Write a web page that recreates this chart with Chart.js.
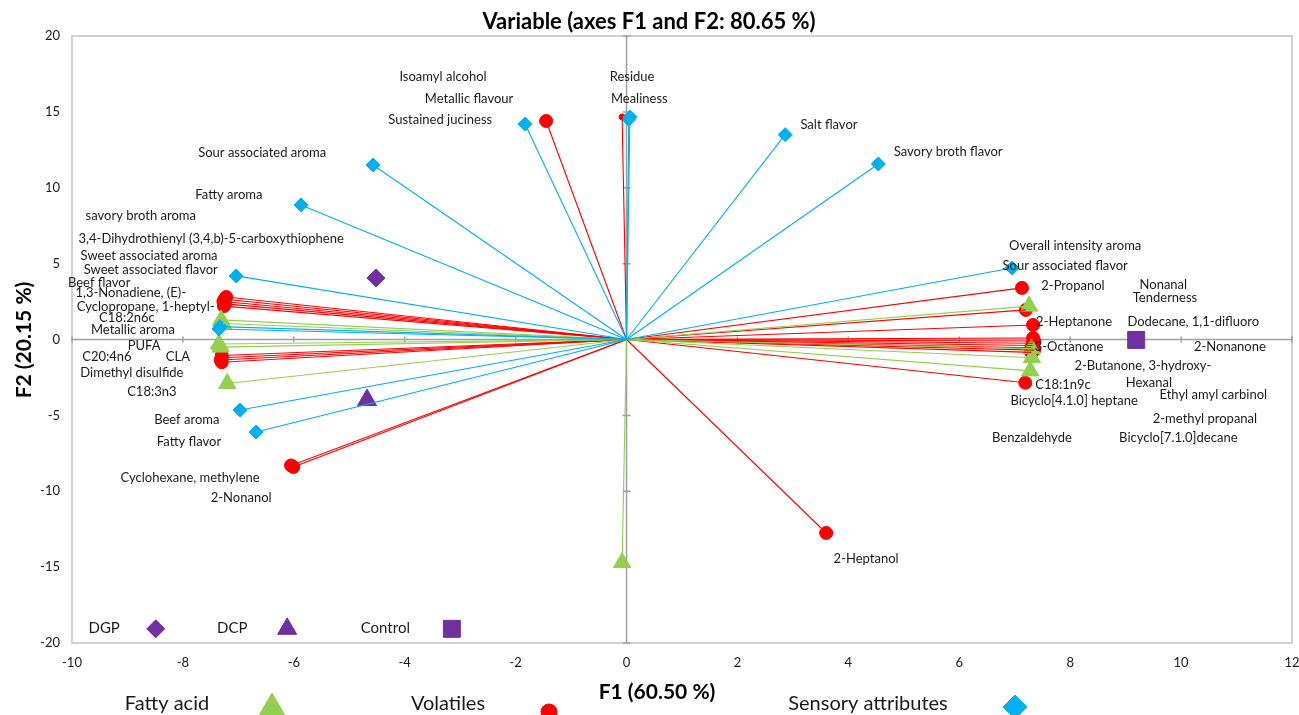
<!DOCTYPE html>
<html>
<head>
<meta charset="utf-8">
<script src="https://cdn.jsdelivr.net/npm/chart.js@4.4.0/dist/chart.umd.min.js"></script>
<style>
  body { margin: 0; background: #fff; overflow: hidden; }
  #wrap { width: 1299px; height: 715px; }
</style>
</head>
<body>
<div id="wrap"><canvas id="biplot" width="1299" height="715"></canvas></div>
<script>
// Variable coordinates
const fattyAcidPoints = [
    [-7.31, 1.29], [-7.28, 1.05], [-7.35, -0.3], [-7.32, -0.5], [-7.2, -2.9],
    [-0.08, -14.7], [7.26, 2.2], [7.3, -0.6], [7.31, -1.2], [7.28, -2.07]
];
const volatilePoints = [
    [-1.45, 14.4], [-7.22, 2.8], [-7.25, 2.65], [-7.27, 2.5], [-7.24, 2.35], [-7.26, 2.2],
    [-7.3, -1.05], [-7.3, -1.2], [-7.32, -1.35], [-7.3, -1.5],
    [-6.01, -8.4], [-6.05, -8.3], [3.6, -12.75],
    [7.13, 3.4], [7.2, 1.95], [7.33, 0.96], [7.33, 0.1], [7.35, -0.1], [7.33, -0.25],
    [7.32, -0.4], [7.3, -0.55], [7.35, -0.7], [7.3, -0.85], [7.19, -2.85]
];
const residuePoint = [[-0.08, 14.67]];
const sensoryPoints = [
    [-1.83, 14.2], [0.06, 14.67], [0.04, 14.5], [2.86, 13.5], [4.54, 11.57],
    [-4.57, 11.5], [-5.87, 8.87], [-7.04, 4.19], [-7.35, 0.69], [-7.33, 0.85],
    [-6.97, -4.65], [-6.68, -6.1], [6.95, 4.71]
];
const treatmentNames = ['DGP', 'DCP', 'Control'];
const treatmentPoints = [[-4.52, 4.05], [-4.68, -3.99], [9.19, -0.03]];

// Text labels as placed in the plot (text, F1, F2)
const variableLabels = [
    ['Isoamyl alcohol', -3.31, 17.3], ['Metallic flavour', -2.84, 15.85], ['Sustained juciness', -3.36, 14.47],
    ['Residue', 0.1, 17.3], ['Mealiness', 0.23, 15.85], ['Salt flavor', 3.65, 14.14],
    ['Savory broth flavor', 5.8, 12.36], ['Sour associated aroma', -6.57, 12.29], ['Fatty aroma', -7.17, 9.53],
    ['savory broth aroma', -8.76, 8.14], ['3,4-Dihydrothienyl (3,4,b)-5-carboxythiophene', -7.49, 6.62],
    ['Sweet associated aroma', -8.61, 5.5], ['Sweet associated flavor', -8.58, 4.58], ['Beef flavor', -9.51, 3.72],
    ['1,3-Nonadiene, (E)-', -8.94, 3.07], ['Cyclopropane, 1-heptyl-', -8.67, 2.14], ['C18:2n6c', -9.01, 1.42],
    ['Metallic aroma', -8.9, 0.63], ['PUFA', -8.7, -0.43], ['C20:4n6', -9.37, -1.15], ['CLA', -8.09, -1.15],
    ['Dimethyl disulfide', -8.92, -2.21], ['C18:3n3', -8.56, -3.46], ['Beef aroma', -7.93, -5.31],
    ['Fatty flavor', -7.89, -6.76], ['Cyclohexane, methylene', -7.87, -9.13], ['2-Nonanol', -6.95, -10.45],
    ['2-Heptanol', 4.32, -14.47], ['Overall intensity aroma', 8.09, 6.16], ['Sour associated flavor', 7.91, 4.85],
    ['2-Propanol', 8.05, 3.53], ['Nonanal', 9.68, 3.59], ['Tenderness', 9.71, 2.74], ['2-Heptanone', 8.07, 1.15],
    ['Dodecane, 1,1-difluoro', 10.22, 1.15], ['3-Octanone', 7.98, -0.49], ['2-Nonanone', 10.88, -0.49],
    ['2-Butanone, 3-hydroxy-', 9.31, -1.75], ['Hexanal', 9.42, -2.87], ['C18:1n9c', 7.87, -3.0],
    ['Ethyl amyl carbinol', 10.58, -3.66], ['Bicyclo[4.1.0] heptane', 8.07, -4.05],
    ['2-methyl propanal', 10.43, -5.24], ['Benzaldehyde', 7.31, -6.49], ['Bicyclo[7.1.0]decane', 9.95, -6.49]
];
const groupNames = ['Fatty acid', 'Volatiles', 'Sensory attributes'];

const GREEN = '#92D050';
const RED = '#FF0000';
const BLUE = '#00B0F0';
const PURPLE = '#7030A0';
const FONT = 'Lato, "Open Sans", sans-serif';

const toXY = p => ({ x: p[0], y: p[1] });

function rayDatasets(points, color) {
    return points.map(p => ({
        data: [{ x: 0, y: 0 }, toXY(p)],
        showLine: true,
        borderColor: color,
        borderWidth: 1.1,
        pointRadius: 0,
        pointHoverRadius: 0
    }));
}

function markerDataset(points, color, style, radius) {
    return {
        data: points.map(toXY),
        showLine: false,
        pointStyle: style,
        pointRadius: radius,
        backgroundColor: color,
        borderColor: color,
        borderWidth: 1
    };
}

const datasets = [
    ...rayDatasets(sensoryPoints, BLUE),
    ...rayDatasets(fattyAcidPoints, GREEN),
    ...rayDatasets(volatilePoints, RED),
    ...rayDatasets(residuePoint, RED),
    markerDataset(sensoryPoints, BLUE, 'rectRot', 7),
    markerDataset(fattyAcidPoints, GREEN, 'triangle', 10),
    markerDataset(volatilePoints, RED, 'circle', 6.5),
    markerDataset(residuePoint, RED, 'circle', 3),
    markerDataset([treatmentPoints[0]], PURPLE, 'rectRot', 9),
    markerDataset([treatmentPoints[1]], PURPLE, 'triangle', 11),
    markerDataset([treatmentPoints[2]], PURPLE, 'rect', 12)
];

// frame, zero axes with tick marks
const axesPlugin = {
    id: 'axesPlugin',
    beforeDatasetsDraw(chart) {
        const { ctx, chartArea: a, scales: { x, y } } = chart;
        ctx.save();
        ctx.strokeStyle = '#d0d0d0';
        ctx.lineWidth = 2;
        ctx.strokeRect(a.left, a.top, a.right - a.left, a.bottom - a.top);
        const x0 = x.getPixelForValue(0);
        const y0 = y.getPixelForValue(0);
        ctx.strokeStyle = '#a0a0a0';
        ctx.lineWidth = 1.5;
        ctx.beginPath();
        ctx.moveTo(a.left, y0); ctx.lineTo(a.right, y0);
        ctx.moveTo(x0, a.top); ctx.lineTo(x0, a.bottom);
        x.ticks.forEach(t => {
            const px = x.getPixelForValue(t.value);
            ctx.moveTo(px, y0 - 3); ctx.lineTo(px, y0 + 3);
        });
        y.ticks.forEach(t => {
            const py = y.getPixelForValue(t.value);
            ctx.moveTo(x0 - 4, py); ctx.lineTo(x0 + 4, py);
        });
        ctx.stroke();
        ctx.restore();
    },
    afterDraw(chart) {
        const { ctx, scales: { x, y } } = chart;
        ctx.save();
        ctx.fillStyle = '#1a1a1a';
        ctx.textAlign = 'center';
        ctx.textBaseline = 'middle';
        ctx.font = '13px ' + FONT;
        variableLabels.forEach(l => {
            ctx.fillText(l[0], x.getPixelForValue(l[1]), y.getPixelForValue(l[2]));
        });

        // treatment key inside the plot
        const keyY = y.getPixelForValue(-19);
        const keyText = [-9.42, -7.11, -4.35];
        const keyMark = [-8.49, -6.12, -3.15];
        const keyStyle = [['rectRot', 9], ['triangle', 11], ['rect', 12]];
        ctx.font = '15px ' + FONT;
        treatmentNames.forEach((n, i) => {
            ctx.fillStyle = '#1a1a1a';
            ctx.fillText(n, x.getPixelForValue(keyText[i]), keyY);
            ctx.fillStyle = PURPLE;
            ctx.strokeStyle = PURPLE;
            Chart.helpers.drawPoint(ctx, { pointStyle: keyStyle[i][0], radius: keyStyle[i][1], borderWidth: 1 },
                x.getPixelForValue(keyMark[i]), keyY + 1);
        });

        // titles
        ctx.fillStyle = '#000';
        ctx.font = 'bold 22px ' + FONT;
        ctx.fillText('Variable (axes F1 and F2: 80.65 %)', 649, 22);
        ctx.font = 'bold 21px ' + FONT;
        ctx.fillText('F1 (60.50 %)', 657, 692);
        ctx.save();
        ctx.translate(24, 340);
        ctx.rotate(-Math.PI / 2);
        ctx.fillText('F2 (20.15 %)', 0, 0);
        ctx.restore();

        // group legend along the bottom
        const legendText = [167, 448, 868];
        const legendMark = [[272, 708, 'triangle', 15, GREEN], [549, 712, 'circle', 8, RED], [1015, 707, 'rectRot', 12, BLUE]];
        ctx.font = '20px ' + FONT;
        groupNames.forEach((n, i) => {
            ctx.fillStyle = '#1a1a1a';
            ctx.fillText(n, legendText[i], 704);
            const m = legendMark[i];
            ctx.fillStyle = m[4];
            ctx.strokeStyle = m[4];
            Chart.helpers.drawPoint(ctx, { pointStyle: m[2], radius: m[3], borderWidth: 1 }, m[0], m[1]);
        });
        ctx.restore();
    }
};

new Chart(document.getElementById('biplot').getContext('2d'), {
    type: 'scatter',
    data: { datasets },
    options: {
        responsive: false,
        animation: false,
        layout: { autoPadding: false, padding: { top: 36, right: 7, left: 0, bottom: 0 } },
        plugins: { legend: { display: false }, tooltip: { enabled: false } },
        scales: {
            x: {
                type: 'linear', min: -10, max: 12,
                ticks: { stepSize: 2, padding: 12, color: '#1a1a1a', font: { family: FONT, size: 13 } },
                grid: { display: false, drawTicks: false },
                border: { display: false },
                afterFit: s => { s.height = 72; s.paddingLeft = 0; s.paddingRight = 0; }
            },
            y: {
                type: 'linear', min: -20, max: 20,
                ticks: { stepSize: 5, padding: 12, color: '#1a1a1a', font: { family: FONT, size: 13 } },
                grid: { display: false, drawTicks: false },
                border: { display: false },
                afterFit: s => { s.width = 72; s.paddingTop = 0; s.paddingBottom = 0; }
            }
        }
    },
    plugins: [axesPlugin]
});
</script>
</body>
</html>
